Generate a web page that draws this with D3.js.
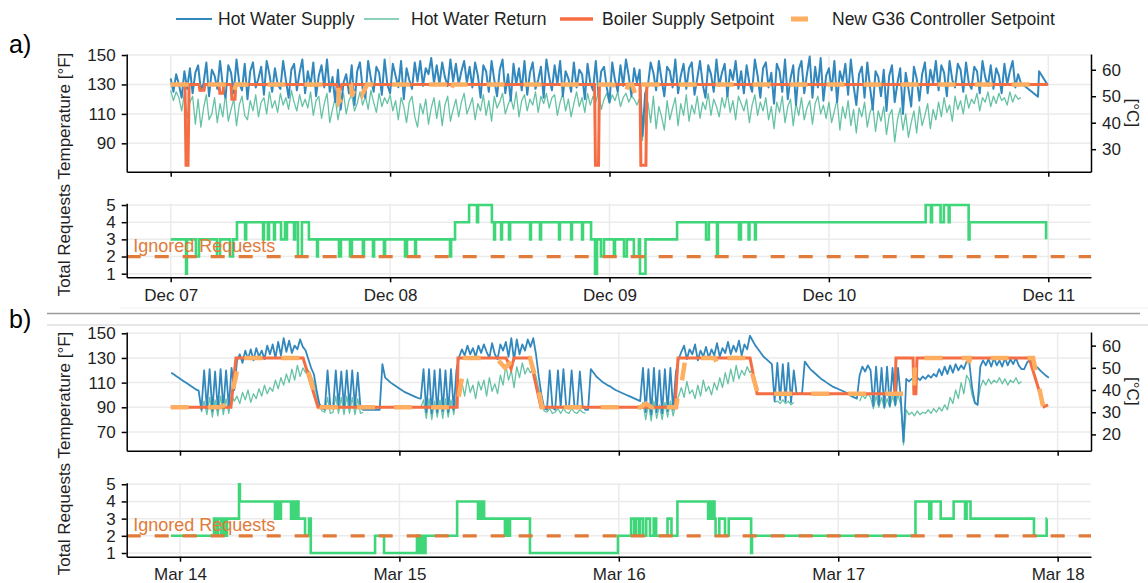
<!DOCTYPE html>
<html><head><meta charset="utf-8">
<script src="https://cdn.jsdelivr.net/npm/d3@7"></script>
<style>
body{margin:0;background:#fff;}
svg{display:block;font-family:"Liberation Sans",Arial,sans-serif;}
</style></head><body>
<svg id="chart" width="1148" height="583"></svg>
<script>
// ---------------- DATA ----------------
const legendLabels = ["Hot Water Supply","Hot Water Return","Boiler Supply Setpoint","New G36 Controller Setpoint"];
const yTitle = "Total Requests Temperature [°F]";
const yTitleRight = "[°C]";
const dayTicks = [0,1,2,3,4];
const dateLabelsA = ["Dec 07","Dec 08","Dec 09","Dec 10","Dec 11"];
const dateLabelsB = ["Mar 14","Mar 15","Mar 16","Mar 17","Mar 18"];
const tempTicksA = [90,110,130,150];
const tempTicksB = [70,90,110,130,150];
const celsiusTicksA = [30,40,50,60];
const celsiusTicksB = [20,30,40,50,60];
const reqTicks = [1,2,3,4,5];
const ignoredLevel = 2;
const ignoredLabel = "Ignored Requests";

// Panel a: regular samples (days from Dec 07 00:00)
const hwsAStart = 0, hwsAStep = 0.0125;
const hwsA = [
134,125,137,130,121,139,127,141,124,138,
143,126,131,145,122,140,136,127,146,129,
121,143,138,124,147,131,126,144,120,139,
145,128,134,142,123,146,137,125,141,130,
127,146,133,121,140,144,126,138,147,124,
139,129,145,122,136,143,128,147,125,135,
118,140,113,131,137,124,143,116,139,145,
127,121,146,134,125,142,138,123,147,130,
124,144,136,128,146,120,141,133,127,145,
132,146,129,141,137,148,131,143,130,145,
135,129,147,132,144,130,139,146,131,142,
128,145,136,121,143,139,125,146,133,122,
140,147,124,137,119,144,130,141,126,146,
123,138,145,127,133,142,121,147,135,126,
143,130,146,122,139,134,125,145,128,140,
137,120,144,131,126,146,123,139,142,128,
118,145,133,125,143,129,147,136,122,141,
131,140,95,124,129,145,138,126,146,133,
122,142,139,128,147,124,136,144,127,141,
145,123,134,146,130,121,143,137,125,147,
129,138,144,122,140,133,146,127,139,124,
143,131,125,147,136,121,141,145,128,138,
117,144,139,125,147,120,134,143,116,140,
146,124,137,149,121,142,128,148,119,136,
141,126,146,118,139,132,144,123,147,129,
116,137,142,121,145,128,113,139,135,122,
140,112,136,143,118,131,141,110,138,127,
115,142,134,119,137,145,124,140,131,146,
126,143,138,122,146,133,128,144,140,125,
145,131,127,142,139,124,146,135,129,143,
127,141,136,124,144,130,139,146,128,137,
131];
const hwsATail = [[3.953,121.7],[3.958,139],[3.998,129.5]];
const hwrAStart = 0, hwrAStep = 0.0125;
const hwrA = [
126,119,125,121,112,124,107,118,122,103,
120,101,114,123,106,110,121,104,117,108,
124,105,113,120,102,116,122,109,106,119,
112,123,108,118,121,110,125,114,119,111,
124,116,121,113,126,118,112,123,115,120,
114,125,109,119,122,107,117,124,104,113,
121,106,116,124,110,119,123,112,117,125,
116,122,113,126,118,111,124,115,121,117,
123,112,119,106,121,115,104,118,122,108,
101,117,110,120,103,114,121,107,119,102,
116,122,105,113,120,108,118,124,110,115,
121,106,117,112,123,109,119,105,122,114,
118,124,110,116,121,113,125,108,119,123,
112,120,116,125,111,122,117,124,114,121,
123,109,118,124,112,120,108,117,125,115,
121,111,124,116,122,118,125,113,120,124,
117,123,119,125,115,121,124,118,122,120,
116,121,92,110,118,104,122,100,115,108,
99,119,106,114,121,102,117,109,123,105,
116,110,122,107,118,113,124,109,120,115,
108,121,114,124,111,119,106,122,117,112,
120,104,116,123,109,118,112,121,106,115,
100,118,111,122,104,115,120,102,117,109,
121,106,114,119,103,117,122,110,116,107,
118,104,112,120,99,115,107,119,102,113,
97,114,108,118,101,111,116,98,112,105,
115,96,109,113,91,106,114,99,110,94,
104,112,97,115,102,109,117,100,113,106,
118,108,121,111,116,105,122,113,119,110,
123,114,120,117,124,112,121,118,125,115,
122,117,124,119,121,116,125,118,123,120,
121];
const boilerA = [[0,130],[0.065,130],[0.070,75],[0.079,75],[0.084,130],[0.129,130],[0.133,126],[0.152,126],[0.156,130],
[0.220,130],[0.224,124],[0.238,124],[0.242,130],[0.275,130],[0.279,120],[0.293,120],[0.297,130],[0.757,130],[0.761,127],
[0.775,127],[0.779,130],[1.932,130],[1.936,75],[1.950,75],[1.954,130],[2.139,130],[2.143,75],[2.166,75],[2.170,130],[3.998,130]];
const g36A = [[0,130],[0.262,130],[0.284,123],[0.298,130],[0.763,130],[0.767,118],[0.781,121],[0.799,127],[0.808,130],
[0.822,130],[0.826,122],[0.845,130],[0.872,130],[0.876,124],[0.895,130],[1.264,130],[1.268,123],[1.287,130],
[2.011,130],[2.039,128],[2.071,123],[2.085,130],[2.103,130],[2.121,122],[2.130,130],[3.998,130]];
const reqA = [[0.000,3],[0.070,1],[0.074,3],[0.115,2],[0.129,3],[0.211,2],[0.225,3],[0.270,2],[0.284,3],[0.302,4],
[0.339,3],[0.344,4],[0.421,3],[0.425,4],[0.443,3],[0.448,4],[0.471,3],[0.475,4],[0.503,3],[0.521,4],[0.525,3],[0.530,4],
[0.562,3],[0.567,4],[0.580,2],[0.598,4],[0.630,3],[0.667,2],[0.671,3],[0.767,2],[0.776,3],[0.817,2],[0.826,3],[0.876,2],
[0.881,3],[0.922,2],[0.927,3],[0.972,2],[0.977,3],[1.068,2],[1.077,3],[1.114,2],[1.118,3],[1.273,2],[1.278,3],[1.296,4],
[1.360,5],[1.396,4],[1.401,5],[1.464,4],[1.474,3],[1.478,4],[1.506,3],[1.510,4],[1.542,3],[1.547,4],[1.638,3],[1.642,4],
[1.683,3],[1.688,4],[1.770,3],[1.774,4],[1.825,3],[1.829,4],[1.875,3],[1.879,4],[1.916,3],[1.934,1],[1.943,3],[1.961,2],
[1.975,3],[2.020,2],[2.025,3],[2.066,2],[2.079,3],[2.111,2],[2.134,3],[2.139,1],[2.164,3],[2.308,4],[2.440,3],[2.453,4],
[2.490,2],[2.494,4],[2.590,3],[2.599,4],[2.634,3],[2.638,4],[2.663,3],[2.667,4],[3.441,5],[3.465,4],[3.470,5],[3.509,4],
[3.524,5],[3.546,4],[3.550,5],[3.637,3],[3.641,4],[3.990,3]];

// Panel b: regular samples (days from Mar 14 00:00)
const hwsBStart = -0.04, hwsBStep = 0.0125;
const hwsB = [
118,116.5,115,113.5,112,110.5,109,107.5,106,104.5,103.5,
88,120,89,121,87,119,88,121,89,120,
90,122,104,128,133,126,136,129,137,128,
138,131,136,129,140,133,141,130,143,132,
146,135,144,134,140,137,145,139,136,129,
122,117,104,93,89,88,120,91,89,120,
91,119,90,120,90,120,90,118,90,88,
88,88,88,88,88,88,125,114,112,110,
108.5,107,105.5,104,102.5,101.5,100.5,99.5,98.5,97.5,
97,121,86,121,85,120,86,121,87,120,
86,121,88,120,131,137,132,140,133,138,
131,140,134,141,135,130,142,133,129,141,
136,143,131,146,128,145,133,141,136,145,
139,146,133,115,100,89,88,120,90,88,
120,90,121,91,89,120,91,89,119,91,
88,88,121,118,115,113,111,109.5,108,107,
105.5,104,103,102,101,100,99,98,97,96,
95,122,86,121,84,122,86,120,85,121,
87,122,88,118,129,135,140,129,137,133,
141,128,136,131,139,130,137,132,142,131,
138,134,143,133,140,135,144,132,141,137,
148,144,140,137,134,131,129,127,125,95,
126,96,125,95,126,94,120,101,101,101,
127,124,121,119,117,115,113,111.5,110,108.5,
107,106,105,104,103,102,100.5,99,98,97,
116,123,119,124,120,91,123,92,122,90,
123,91,122,92,122,98,62,113,111,113,
112,114,112,115,113,116,114,117,115,121,
116,123,117,124,118,125,120,124,121,127,
126,106,94,92,123,128,124,129,123,130,
124,128,123,130,124,129,125,130,124,121,
121,126,128.6,126.5,124,122,119.5,117.5,115.5,114];
const hwrBStep = 0.0125;
const hwrBStarts = [0.0975,1.0975,2.0975,2.71,3.0975];
const hwrB1 = [86,95,84,98,82,96,83,99,84,97,85,100,
95,99,93,102,96,104,94,101,
97,105,99,108,101,106,103,112,105,114,
108,117,110,121,112,124,115,122,118,120,
115,110,100,91,87,86,98,85,86,99,
85,98,84,99,85,98,84,97,85,86];
const hwrB2 = [90,96,81,97,80,95,82,96,81,97,
82,96,84,98,104,110,99,113,102,108,
97,111,104,112,99,114,103,109,101,116,
108,124,112,120,106,123,114,126,117,122,
118,121,115,105,94,87,86,89,85,86,
89,85,89,86,85,89,86,85,88,86,85];
const hwrB3 = [88,94,80,93,79,95,81,92,80,94,
82,95,83,93,99,106,98,111,101,104,
97,108,99,112,103,107,100,110,104,114,
106,118,109,121,111,124,113,120,116,123,118,121];
const hwrB4 = [94,95,93,96,93,95,92,94];
const hwrB5 = [95,100,97,101,98,89,99,90,98,89,
97,90,99,91,100,92,59.5,88,84,86,
83,87,84,86,85,88,85,89,86,90,
87,92,88,98,93,104,97,110,101,116,
112,100,93,92,106,112,108,113,109,112,
110,114,109,113,108,112,110,114,109,111];
const boilerB = [[-0.042,90],[0.232,90],[0.255,130],[0.561,130],[0.629,90],[1.263,90],[1.267,130],[1.486,130],[1.509,121],
[1.522,130],[1.595,130],[1.645,90],[2.256,90],[2.270,130],[2.598,130],[2.630,101],[3.259,101],[3.263,130],[3.341,130],
[3.345,101],[3.354,101],[3.359,130],[3.870,130],[3.938,90.5],[3.956,92]];
const g36B = [[-0.042,90],[0.182,90],[0.228,94],[0.255,115],[0.269,130],[0.561,130],[0.583,120],[0.602,108],[0.620,97],
[0.638,90],[1.263,90],[1.272,100],[1.281,110],[1.294,120],[1.299,130],[1.440,130],[1.481,122],[1.504,126],[1.527,130],
[1.595,130],[1.627,110],[1.650,90],[2.097,90],[2.124,93],[2.151,90],[2.174,95],[2.197,90],[2.261,90],[2.274,104],
[2.288,112],[2.302,128],[2.315,130],[2.438,130],[2.452,123],[2.470,128],[2.479,130],[2.589,130],[2.616,112],[2.634,101],
[3.345,101],[3.350,130],[3.591,130],[3.596,126],[3.601,130],[3.888,130],[3.933,91]];
const reqB = [[-0.041,2],[0.155,3],[0.164,2],[0.173,3],[0.187,2],[0.196,3],[0.205,2],[0.214,3],[0.269,5],[0.273,4],
[0.433,3],[0.438,4],[0.442,3],[0.447,4],[0.451,3],[0.460,4],[0.506,3],[0.515,4],[0.524,3],[0.533,4],[0.540,3],[0.570,2],
[0.588,3],[0.596,1],[0.889,2],[0.930,1],[1.080,2],[1.085,1],[1.094,2],[1.098,1],[1.108,2],[1.112,1],[1.119,2],[1.263,4],
[1.358,3],[1.363,4],[1.367,3],[1.372,4],[1.376,3],[1.381,4],[1.386,3],[1.481,2],[1.486,3],[1.490,2],[1.495,3],[1.500,2],
[1.504,3],[1.595,1],[1.996,2],[2.056,3],[2.070,2],[2.077,3],[2.091,2],[2.097,3],[2.111,2],[2.125,3],[2.142,2],[2.159,3],
[2.170,2],[2.222,3],[2.240,2],[2.267,4],[2.407,3],[2.411,4],[2.416,3],[2.420,4],[2.425,3],[2.429,4],[2.436,3],[2.441,2],
[2.458,3],[2.484,2],[2.501,3],[2.603,1],[2.607,2],[3.352,4],[3.415,3],[3.424,4],[3.467,3],[3.526,4],[3.578,3],[3.585,4],
[3.603,3],[3.892,2],[3.950,3],[3.952,3]];

// ---------------- DRAWING ----------------
const COL = {hws:"#3288bd",hwr:"#66c2a5",boiler:"#f46d43",g36:"#fdae61",req:"#3fd67a",ign:"#e07b39",grid:"#ebebeb",text:"#1f1f1f"};
const FONT = "Liberation Sans, Arial, sans-serif";
const svg = d3.select("#chart");
const X0 = 126.7, X1 = 1091;
const xA = d3.scaleLinear().domain([-0.2005,4.1946]).range([X0,X1]);
const xB = d3.scaleLinear().domain([-0.2429,4.152]).range([X0,X1]);

const regular = (start, step, vals) => vals.map((v,i)=>[start+i*step, v]);

function styleAxis(sel){
  sel.attr("font-family",FONT).attr("font-size",17);
  sel.selectAll("path,line").attr("stroke","#000").attr("stroke-width",1.5);
  sel.selectAll("text").attr("fill",COL.text);
}

function grid(g, x, y, yt, top, bottom){
  g.selectAll(null).data(yt).join("line")
    .attr("x1",X0).attr("x2",X1).attr("y1",d=>y(d)).attr("y2",d=>y(d))
    .attr("stroke",COL.grid).attr("stroke-width",1.5);
  g.selectAll(null).data(dayTicks).join("line")
    .attr("x1",d=>x(d)).attr("x2",d=>x(d)).attr("y1",top).attr("y2",bottom)
    .attr("stroke",COL.grid).attr("stroke-width",1.5);
}

function tempPanel(o){
  const y = d3.scaleLinear().domain(o.yDom).range([o.bottom,o.top]);
  const yc = d3.scaleLinear().domain(o.yDom.map(f=>(f-32)*5/9)).range([o.bottom,o.top]);
  const g = svg.append("g");
  grid(g,o.x,y,o.ticksF,o.top,o.bottom);
  const line = d3.line().x(d=>o.x(d[0])).y(d=>y(d[1]));
  o.hwr.forEach(seg=>g.append("path").datum(seg).attr("d",line).attr("fill","none")
    .attr("stroke",COL.hwr).attr("stroke-width",o.hwrW).attr("stroke-linejoin","round"));
  g.append("path").datum(o.hws).attr("d",line).attr("fill","none")
    .attr("stroke",COL.hws).attr("stroke-width",o.hwsW).attr("stroke-linejoin","round");
  g.append("path").datum(o.boiler).attr("d",line).attr("fill","none")
    .attr("stroke",COL.boiler).attr("stroke-width",3);
  g.append("path").datum(o.g36).attr("d",line).attr("fill","none")
    .attr("stroke",COL.g36).attr("stroke-width",4.5).attr("stroke-dasharray","18,19");
  styleAxis(g.append("g").attr("transform",`translate(0,${o.bottom})`)
    .call(d3.axisBottom(o.x).tickValues(dayTicks).tickFormat("").tickSizeInner(5).tickSizeOuter(0)));
  styleAxis(g.append("g").attr("transform",`translate(${X0},0)`)
    .call(d3.axisLeft(y).tickValues(o.ticksF).tickSizeInner(5).tickSizeOuter(0).tickPadding(6)));
  styleAxis(g.append("g").attr("transform",`translate(${X1},0)`)
    .call(d3.axisRight(yc).tickValues(o.ticksC).tickSizeInner(5).tickSizeOuter(0).tickPadding(6)));
  g.append("text").attr("transform",`translate(1127,${(o.top+o.bottom)/2}) rotate(90)`).attr("text-anchor","middle")
    .attr("font-size",17).attr("fill",COL.text).text(yTitleRight);
}

function reqPanel(o){
  const y = d3.scaleLinear().domain(o.yDom).range([o.bottom,o.top]);
  const g = svg.append("g");
  grid(g,o.x,y,reqTicks,o.top,o.bottom);
  const line = d3.line().curve(d3.curveStepAfter).x(d=>o.x(d[0])).y(d=>y(d[1]));
  g.append("path").datum(o.req).attr("d",line).attr("fill","none")
    .attr("stroke",COL.req).attr("stroke-width",2.6);
  g.append("line").attr("x1",X0).attr("x2",X1).attr("y1",y(ignoredLevel)).attr("y2",y(ignoredLevel))
    .attr("stroke",COL.ign).attr("stroke-width",3.2).attr("stroke-dasharray","14,14");
  g.append("text").attr("x",o.x(o.x.domain()[0]+0.03)).attr("y",y(ignoredLevel)-5)
    .attr("font-size",18).attr("fill",COL.ign).text(ignoredLabel);
  styleAxis(g.append("g").attr("transform",`translate(0,${o.bottom})`)
    .call(d3.axisBottom(o.x).tickValues(dayTicks).tickFormat((d,i)=>o.labels[i]).tickSizeInner(5).tickSizeOuter(0).tickPadding(6.5)));
  styleAxis(g.append("g").attr("transform",`translate(${X0},0)`)
    .call(d3.axisLeft(y).tickValues(reqTicks).tickFormat(d3.format("d")).tickSizeInner(5).tickSizeOuter(0).tickPadding(6)));
}

function yTitleText(top, bottom){
  svg.append("text").attr("transform",`translate(70,${(top+bottom)/2}) rotate(-90)`).attr("text-anchor","middle")
    .attr("font-size",17).attr("fill",COL.text).text(yTitle);
}

// Panel a
tempPanel({x:xA, top:54, bottom:171.7, yDom:[70.7,150.7], ticksF:tempTicksA, ticksC:celsiusTicksA,
  hws: regular(hwsAStart,hwsAStep,hwsA).concat(hwsATail), hwsW:2, hwrW:1.3,
  hwr: [regular(hwrAStart,hwrAStep,hwrA)], boiler:boilerA, g36:g36A});
reqPanel({x:xA, top:203.3, bottom:277.3, yDom:[0.79,5.1], req:reqA, labels:dateLabelsA});
yTitleText(49, 300);

// Panel b
tempPanel({x:xB, top:332, bottom:450.7, yDom:[54.8,151.05], ticksF:tempTicksB, ticksC:celsiusTicksB,
  hws: regular(hwsBStart,hwsBStep,hwsB), hwsW:1.8, hwrW:1.3,
  hwr: [hwrB1,hwrB2,hwrB3,hwrB4,hwrB5].map((v,i)=>regular(hwrBStarts[i],hwrBStep,v)),
  boiler:boilerB, g36:g36B});
reqPanel({x:xB, top:482.7, bottom:556.7, yDom:[0.785,5.09], req:reqB, labels:dateLabelsB});
yTitleText(327, 580);

// separators
svg.append("line").attr("x1",120).attr("x2",1148).attr("y1",308).attr("y2",308).attr("stroke","#f0f0f0").attr("stroke-width",1);
svg.append("line").attr("x1",47).attr("x2",1140).attr("y1",313.5).attr("y2",313.5).attr("stroke","#9a9a9a").attr("stroke-width",1.5);
svg.append("line").attr("x1",47).attr("x2",1148).attr("y1",325).attr("y2",325).attr("stroke","#cfcfcf").attr("stroke-width",1);

// panel letters
svg.append("text").attr("x",9).attr("y",53).attr("font-size",25).attr("fill","#000").text("a)");
svg.append("text").attr("x",9).attr("y",328).attr("font-size",25).attr("fill","#000").text("b)");

// legend
const legKeys = [
  {x1:176,x2:212,c:COL.hws,w:2,tx:218},
  {x1:364,x2:399,c:COL.hwr,w:1.6,tx:411},
  {x1:560,x2:593,c:COL.boiler,w:3.5,tx:602},
  {x1:791,x2:808,c:COL.g36,w:5,tx:832}];
const lg = svg.append("g");
legKeys.forEach((k,i)=>{
  lg.append("line").attr("x1",k.x1).attr("x2",k.x2).attr("y1",19).attr("y2",19).attr("stroke",k.c).attr("stroke-width",k.w);
  lg.append("text").attr("x",k.tx).attr("y",19).attr("dy","0.36em").attr("font-size",17.5).attr("fill",COL.text).text(legendLabels[i]);
});
</script>
</body></html>
